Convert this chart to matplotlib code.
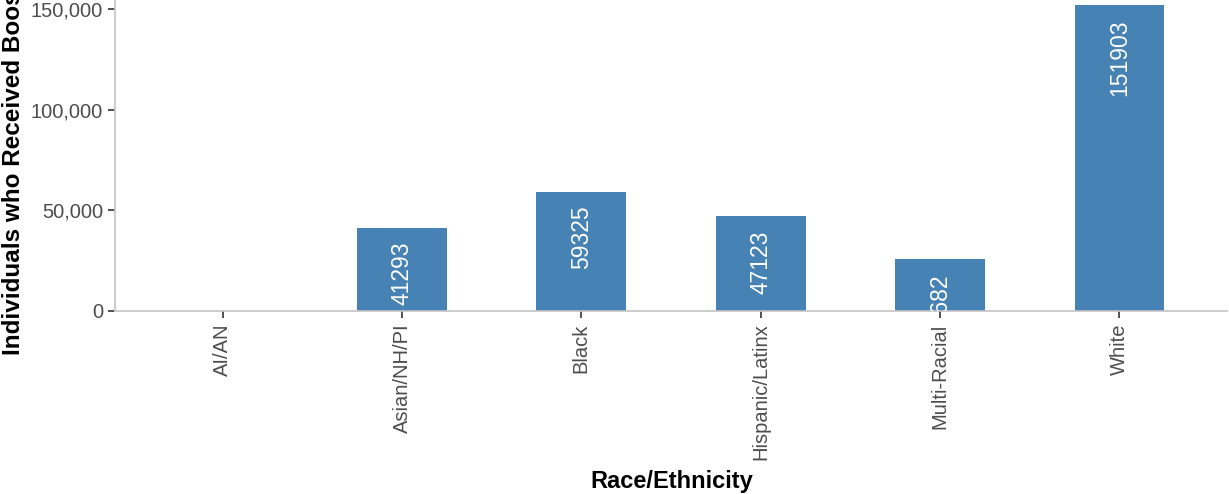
import matplotlib
matplotlib.use("Agg")
import matplotlib.pyplot as plt
from matplotlib.ticker import FuncFormatter
from matplotlib.transforms import offset_copy

categories = ["AI/AN", "Asian/NH/PI", "Black", "Hispanic/Latinx", "Multi-Racial", "White"]
values = [0, 41293, 59325, 47123, 25682, 151903]
yticks = [0, 50000, 100000, 150000]

plt.rcParams['font.family'] = ['Liberation Sans', 'DejaVu Sans']

W, H = 1229, 494
fig = plt.figure(figsize=(W / 100, H / 100), dpi=100)
ax = fig.add_axes([115 / W, (H - 311) / H, 1112 / W, 322 / H])

x = list(range(len(categories)))
ax.bar(x, values, width=0.5, color="#4682B4", zorder=2)
ax.set_xlim(-0.6, len(categories) - 0.4)
ax.set_ylim(0, 160000)

ax.set_xticks(x)
ax.set_xticklabels(categories, rotation=90, fontsize=14.5, color="#4d4d4d")
ax.set_yticks(yticks)
ax.yaxis.set_major_formatter(FuncFormatter(lambda v, p: f"{int(v):,}"))
ax.tick_params(axis='y', labelsize=14.5, labelcolor="#4d4d4d", color="#333333", length=5, width=1.2)
ax.tick_params(axis='x', color="#333333", length=5, width=1.2, pad=4)

for s in ["top", "right"]:
    ax.spines[s].set_visible(False)
for s in ["left", "bottom"]:
    ax.spines[s].set_color("#c4c4c4")
    ax.spines[s].set_linewidth(1.2)

trans = offset_copy(ax.transData, fig=fig, x=0, y=-14, units='dots')
for xi, v in zip(x, values):
    if v <= 0:
        continue
    ax.text(xi, v, str(v), rotation=90, ha='center', va='top', color='white',
            fontsize=16.5, transform=trans, clip_on=True)

fig.text(13.5 / W, 1 - 355 / H, "Individuals who Received Booster Doses", rotation=90,
         ha='center', va='bottom', fontsize=17.5, fontweight='bold')
fig.text(672 / W, 1 - 481 / H, "Race/Ethnicity", ha='center', va='center',
         fontsize=17, fontweight='bold')

fig.savefig("out.png", dpi=100)
